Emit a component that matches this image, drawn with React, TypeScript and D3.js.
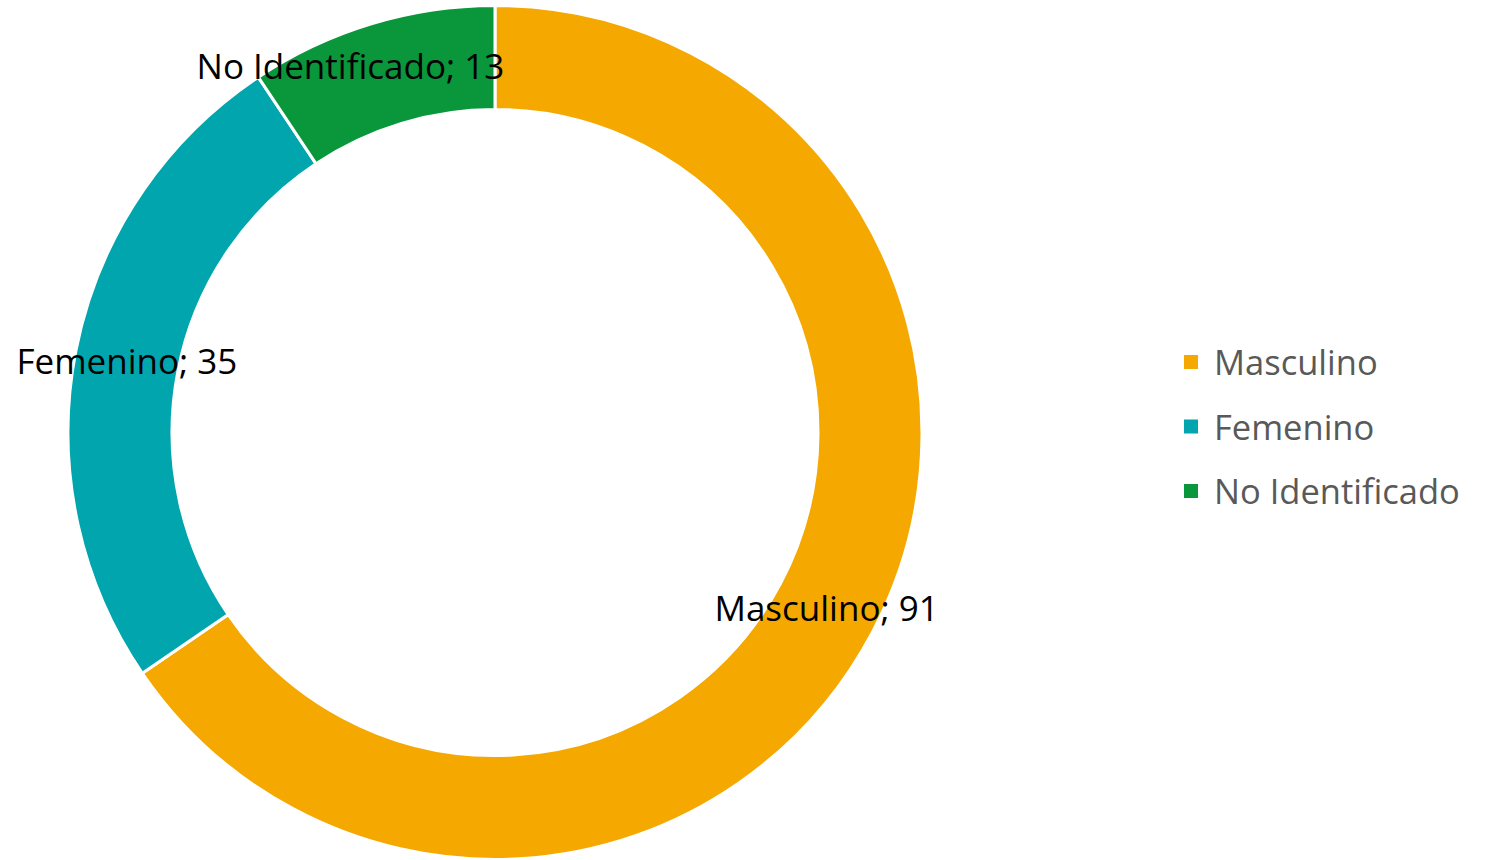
import React from "react";
import * as d3 from "d3";

const categories = ["Masculino", "Femenino", "No Identificado"];
const values = [91, 35, 13];
const colors = ["#F5A800", "#00A5AD", "#0A963A"];

const W = 1489;
const H = 860;
const cx = 495;
const cy = 432.5;
const outerR = 427;
const innerR = 323;
const font = "'Open Sans', sans-serif";
// Excel nudged the last label to the left and up
const labelNudge: Record<string, [number, number]> = { "No Identificado": [-36, -8] };

export default function App() {
  const pie = d3.pie<number>().sort(null).value((d) => d)(values);
  const arc = d3.arc<d3.PieArcDatum<number>>().innerRadius(innerR).outerRadius(outerR);
  const labelArc = d3
    .arc<d3.PieArcDatum<number>>()
    .innerRadius((innerR + outerR) / 2)
    .outerRadius((innerR + outerR) / 2);
  const legendY = d3.scalePoint<string>().domain(categories).range([362, 491]);

  return (
    <svg
      width={W}
      height={H}
      style={{ position: "absolute", left: 0, top: 0, background: "#fff" }}
    >
      <g transform={`translate(${cx},${cy})`}>
        {pie.map((p, i) => (
          <path key={i} d={arc(p) || ""} fill={colors[i]} stroke="#fff" strokeWidth={3} />
        ))}
        {pie.map((p, i) => {
          const [x, y] = labelArc.centroid(p);
          const [nx, ny] = labelNudge[categories[i]] || [0, 0];
          return (
            <text
              key={"l" + i}
              x={x + nx}
              y={y + 4 + ny}
              textAnchor="middle"
              dominantBaseline="middle"
              fontFamily={font}
              fontSize={35}
              fill="#000"
            >
              {`${categories[i]}; ${values[i]}`}
            </text>
          );
        })}
      </g>
      {categories.map((c, i) => (
        <g key={c} transform={`translate(0,${legendY(c)})`}>
          <rect x={1184} y={-7} width={14} height={14} fill={colors[i]} />
          <text
            x={1214}
            y={4}
            dominantBaseline="middle"
            fontFamily={font}
            fontSize={34.5}
            fill="#595959"
          >
            {c}
          </text>
        </g>
      ))}
    </svg>
  );
}
